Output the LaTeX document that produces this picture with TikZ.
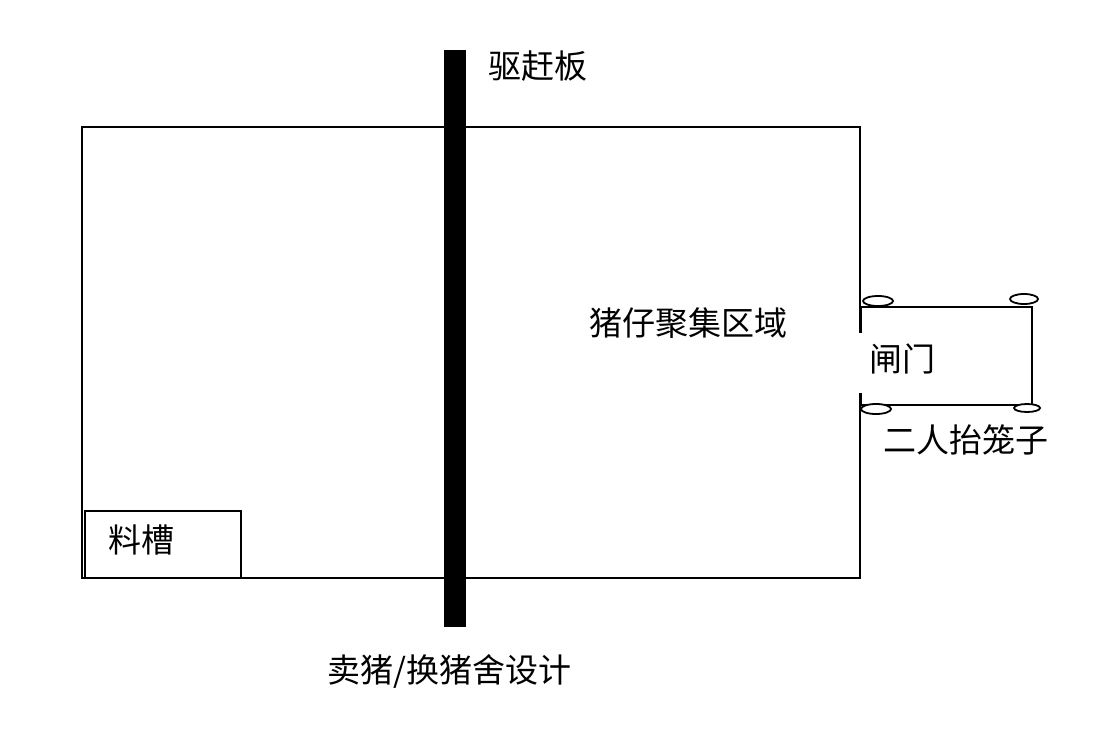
\documentclass[tikz,border=0pt]{standalone}
\usepackage{fontspec}
\setmainfont{Noto Sans CJK SC}
\begin{document}
\begin{tikzpicture}[x=1pt,y=-1pt,line width=2.4pt,
  lbl/.style={inner sep=0pt,anchor=west,font=\fontsize{33}{35}\selectfont},
  whl/.style={line width=1.8pt,fill=white}]
\useasboundingbox (0,0) rectangle (1102,741);
\draw (860,333) -- (860,127) -- (82,127) -- (82,578) -- (860,578) -- (860,393);
\node[draw,minimum width=156pt,minimum height=67pt,inner sep=0pt,anchor=north west] (trough) at (84,510) {};
\node[lbl] (tl) at (107,540) {料槽};
\fill (444,50) rectangle (466,627);
\node[lbl] (drv) at (487,66) {驱赶板};
\node[lbl] (area) at (588,323) {猪仔聚集区域};
\draw (860,307) -- (1032,307) -- (1032,405) -- (860,405);
\draw[line width=3pt] (860,307) -- (860,333) (860,393) -- (860,405);
\draw[whl] (878,301) ellipse (15 and 5);
\draw[whl] (1024,299) ellipse (14 and 5);
\draw[whl] (876,409) ellipse (15 and 5);
\draw[whl] (1027,408) ellipse (13 and 4);
\node[lbl] (gate) at (868,359) {闸门};
\node[lbl] (cage) at (882,440) {二人抬笼子};
\node[lbl] (title) at (326,671) {卖猪/换猪舍设计};
\end{tikzpicture}
\end{document}
